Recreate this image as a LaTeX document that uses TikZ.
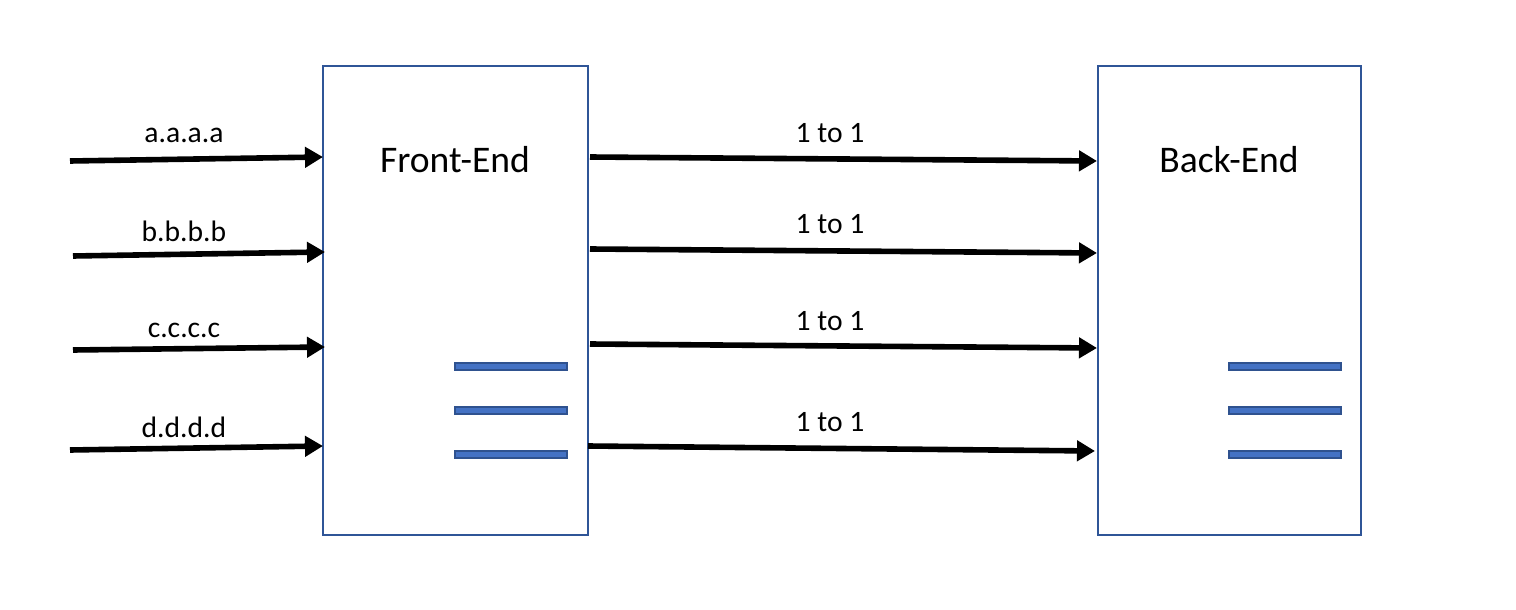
\documentclass[tikz,border=0pt]{standalone}
\usepackage{fontspec}
\setmainfont{Carlito}
\usetikzlibrary{arrows.meta}
\definecolor{boxblue}{HTML}{2F5597}
\definecolor{barfill}{HTML}{4472C4}
\definecolor{barline}{HTML}{2F528F}
\begin{document}
\begin{tikzpicture}[x=0.5pt,y=-0.5pt,
  block/.style={draw=boxblue,line width=0.8pt,fill=white},
  bar/.style={draw=barline,line width=0.9pt,fill=barfill},
  flow/.style={line width=2.8pt,-{Triangle[length=9pt,width=10pt]}},
  lbl/.style={font=\fontsize{14.8}{16}\selectfont,anchor=base,inner sep=0pt},
  title/.style={font=\fontsize{18.8}{20}\selectfont,anchor=base,inner sep=0pt}]
\useasboundingbox (0,0) rectangle (1516,610);
% boxes
\draw[block] (323,66) rectangle (588,535);
\draw[block] (1098,66) rectangle (1361,535);
\node[title] (fe) at (455,172) {Front-End};
\node[title] (be) at (1229,172) {Back-End};
% bars
\foreach \y [count=\i] in {363,407,451}{
  \draw[bar] (455,\y) rectangle (567,\y+7);
  \draw[bar] (1229,\y) rectangle (1341,\y+7);
}
% left arrow coordinates
\coordinate (a0) at (70,161);  \coordinate (a1) at (323,157);
\coordinate (b0) at (73,256);  \coordinate (b1) at (325,252);
\coordinate (c0) at (73,350);  \coordinate (c1) at (325,347);
\coordinate (d0) at (70,450);  \coordinate (d1) at (323,446);
\draw[flow] (a0) -- (a1);
\draw[flow] (b0) -- (b1);
\draw[flow] (c0) -- (c1);
\draw[flow] (d0) -- (d1);
\node[lbl] (la) at (184,142) {a.a.a.a};
\node[lbl] (lb) at (184,242) {b.b.b.b};
\node[lbl] (lc) at (184,337) {c.c.c.c};
\node[lbl] (ld) at (184,437) {d.d.d.d};
% right arrow coordinates
\coordinate (e0) at (590,157);  \coordinate (e1) at (1097,161);
\coordinate (f0) at (590,249);  \coordinate (f1) at (1097,253);
\coordinate (g0) at (590,344);  \coordinate (g1) at (1097,348);
\coordinate (h0) at (588,446);  \coordinate (h1) at (1095,451);
\draw[flow] (e0) -- (e1);
\draw[flow] (f0) -- (f1);
\draw[flow] (g0) -- (g1);
\draw[flow] (h0) -- (h1);
\node[lbl] (le) at (830,142) {1 to 1};
\node[lbl] (lf) at (830,234) {1 to 1};
\node[lbl] (lg) at (830,330) {1 to 1};
\node[lbl] (lh) at (830,431) {1 to 1};
\end{tikzpicture}
\end{document}
